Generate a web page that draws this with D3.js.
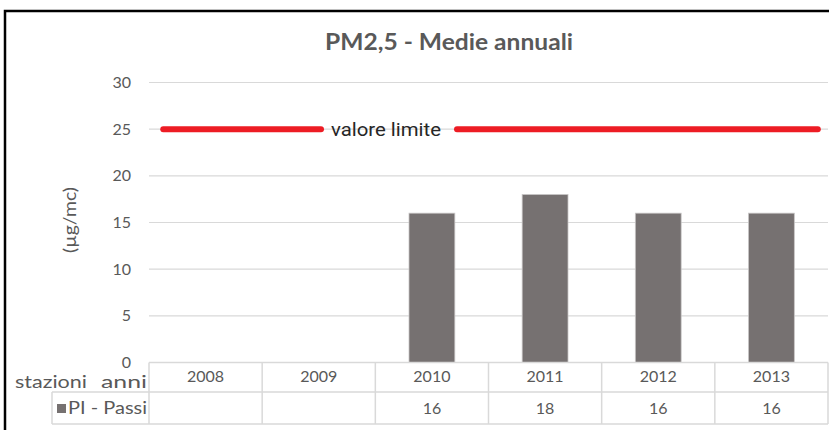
<!DOCTYPE html>
<html>
<head>
<meta charset="utf-8">
<script src="https://cdn.jsdelivr.net/npm/d3@7"></script>
<style>
  body { margin: 0; background: #fff; }
  svg { display: block; font-family: Lato, "Open Sans", sans-serif; }
</style>
</head>
<body>
<div id="chart"></div>
<script>
// chart data
const years = ["2008", "2009", "2010", "2011", "2012", "2013"];
const passiValues = [null, null, 16, 18, 16, 16];
const yTicks = [0, 5, 10, 15, 20, 25, 30];
const limitValue = 25;
const limitLabel = "valore limite";
const seriesName = "PI - Passi";

const width = 829;
const height = 430;
const plot = {"left": 149, "right": 828, "top": 82.5, "bottom": 362.5};

const svg = d3.select("#chart")
              .append("svg")
              .attr("width", width)
              .attr("height", height);

// outer frame
svg.append("rect")
   .attr("x", 5).attr("y", 11)
   .attr("width", width + 10).attr("height", height + 10)
   .attr("fill", "#fff")
   .attr("stroke", "#000")
   .attr("stroke-width", 2.5);

// scales
const x = d3.scaleBand().domain(years).range([plot.left, plot.right]).paddingInner(0).paddingOuter(0);
const y = d3.scaleLinear().domain([0, 30]).range([plot.bottom, plot.top]);
const barWidth = x.bandwidth() * 0.405;

// title
svg.append("text")
   .attr("x", 449).attr("y", 50)
   .attr("text-anchor", "middle")
   .attr("font-size", 22).attr("font-weight", "bold")
   .attr("fill", "#595959")
   .attr("textLength", 248).attr("lengthAdjust", "spacingAndGlyphs")
   .text("PM2,5 - Medie annuali");

// gridlines
svg.selectAll(".grid")
   .data(yTicks.filter(d => d > 0))
   .enter().append("line")
   .attr("x1", plot.left).attr("x2", plot.right)
   .attr("y1", d => y(d)).attr("y2", d => y(d))
   .attr("stroke", "#d9d9d9").attr("stroke-width", 1.2);

// y axis labels
svg.selectAll(".ytick")
   .data(yTicks)
   .enter().append("text")
   .attr("x", 131)
   .attr("y", d => y(d))
   .attr("dy", "0.35em")
   .attr("text-anchor", "end")
   .attr("font-size", 16)
   .attr("fill", "#595959")
   .text(d => d);

svg.append("text")
   .attr("transform", "translate(" + 76 + "," + 220 + ") rotate(-90)")
   .attr("text-anchor", "middle")
   .attr("font-size", 17)
   .attr("fill", "#595959")
   .attr("textLength", 66).attr("lengthAdjust", "spacingAndGlyphs")
   .text("(µg/mc)");

// bars
svg.selectAll(".bar")
   .data(years.map((yr, i) => ({"year": yr, "value": passiValues[i]})).filter(d => d.value != null))
   .enter().append("rect")
   .attr("x", d => x(d.year) + (x.bandwidth() - barWidth) / 2)
   .attr("y", d => y(d.value))
   .attr("width", barWidth)
   .attr("height", d => y(0) - y(d.value))
   .attr("fill", "#767171")
   .attr("stroke", "#c8c6c6")
   .attr("stroke-width", 0.8);

// limit line (split around its label)
const limitX = d3.scaleLinear().domain([0, 1]).range([plot.left, plot.right]);
const labelX = 386;
const limitSegments = [[limitX(0.021), labelX - 65], [labelX + 71, limitX(0.985)]];
svg.selectAll(".limit")
   .data(limitSegments)
   .enter().append("line")
   .attr("x1", d => d[0]).attr("x2", d => d[1])
   .attr("y1", y(limitValue)).attr("y2", y(limitValue))
   .attr("stroke", "#ed1c24")
   .attr("stroke-width", 6)
   .attr("stroke-linecap", "round");

svg.append("text")
   .attr("x", labelX).attr("y", y(limitValue))
   .attr("dy", "0.35em")
   .attr("text-anchor", "middle")
   .attr("font-family", "Roboto, 'Liberation Sans', sans-serif")
   .attr("font-size", 19)
   .attr("fill", "#262626")
   .attr("textLength", 110).attr("lengthAdjust", "spacingAndGlyphs")
   .text(limitLabel);

// data table
const rowTop = plot.bottom;
const rowMid = 392;
const rowBottom = 424;
const tableLines = svg.append("g").attr("stroke", "#d9d9d9").attr("stroke-width", 1.5).attr("fill", "none");
tableLines.append("line").attr("x1", plot.left).attr("x2", plot.right).attr("y1", rowTop).attr("y2", rowTop);
tableLines.append("line").attr("x1", 52).attr("x2", plot.right).attr("y1", rowMid).attr("y2", rowMid);
tableLines.append("line").attr("x1", 52).attr("x2", plot.right).attr("y1", rowBottom).attr("y2", rowBottom);
tableLines.append("line").attr("x1", 52).attr("x2", 52).attr("y1", rowMid).attr("y2", rowBottom);
tableLines.selectAll(".col")
   .data(years.concat(["end"]))
   .enter().append("line")
   .attr("x1", (d, i) => plot.left + i * x.bandwidth())
   .attr("x2", (d, i) => plot.left + i * x.bandwidth())
   .attr("y1", rowTop).attr("y2", rowBottom);

svg.selectAll(".year")
   .data(years)
   .enter().append("text")
   .attr("x", d => x(d) + x.bandwidth() / 2)
   .attr("y", 376.5)
   .attr("dy", "0.35em")
   .attr("text-anchor", "middle")
   .attr("font-size", 16)
   .attr("fill", "#595959")
   .text(d => d);

svg.selectAll(".val")
   .data(years.map((yr, i) => ({"year": yr, "value": passiValues[i]})).filter(d => d.value != null))
   .enter().append("text")
   .attr("x", d => x(d.year) + x.bandwidth() / 2)
   .attr("y", (rowMid + rowBottom) / 2)
   .attr("dy", "0.35em")
   .attr("text-anchor", "middle")
   .attr("font-size", 16)
   .attr("fill", "#595959")
   .text(d => d.value);

svg.append("text")
   .attr("x", 15).attr("y", 388)
   .attr("font-size", 18)
   .attr("fill", "#595959")
   .attr("textLength", 72).attr("lengthAdjust", "spacingAndGlyphs")
   .text("stazioni");
svg.append("text")
   .attr("x", 101).attr("y", 388)
   .attr("font-size", 18)
   .attr("fill", "#595959")
   .attr("textLength", 46).attr("lengthAdjust", "spacingAndGlyphs")
   .text("anni");

// legend key in the table
svg.append("rect")
   .attr("x", 57).attr("y", 404)
   .attr("width", 9).attr("height", 9)
   .attr("fill", "#767171");
svg.append("text")
   .attr("x", 68).attr("y", (rowMid + rowBottom) / 2)
   .attr("dy", "0.35em")
   .attr("font-size", 17)
   .attr("fill", "#595959")
   .attr("textLength", 79).attr("lengthAdjust", "spacingAndGlyphs")
   .text(seriesName);
</script>
</body>
</html>
